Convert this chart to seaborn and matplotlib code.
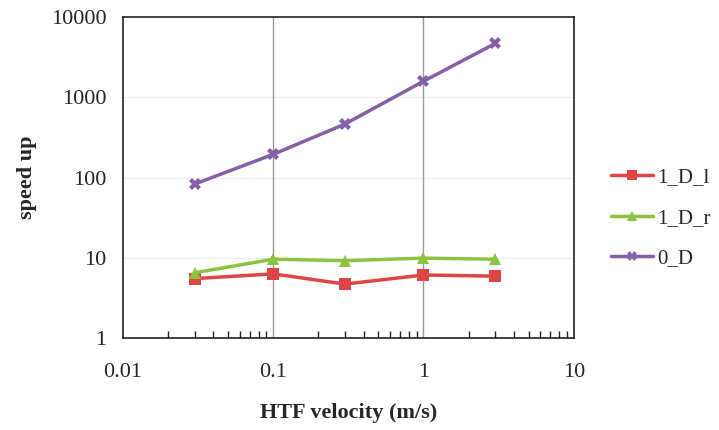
import matplotlib
matplotlib.use("Agg")
import matplotlib.pyplot as plt
import seaborn as sns
import pandas as pd
import numpy as np
from matplotlib.ticker import LogLocator, FixedLocator, FixedFormatter, NullFormatter

velocity = [0.03, 0.1, 0.3, 1, 3]
d1_l = [5.5, 6.3, 4.7, 6.1, 5.9]
d1_r = [6.5, 9.6, 9.2, 9.9, 9.6]
d0 = [83, 195, 465, 1590, 4700]
series_names = ["1_D_l", "1_D_r", "0_D"]
x_ticks = [0.01, 0.1, 1, 10]
x_labels = ["0.01", "0.1", "1", "10"]
y_ticks = [1, 10, 100, 1000, 10000]
y_labels = ["1", "10", "100", "1000", "10000"]

df = pd.DataFrame({
    "v": velocity * 3,
    "s": d1_l + d1_r + d0,
    "series": [series_names[0]] * 5 + [series_names[1]] * 5 + [series_names[2]] * 5,
})

sns.set_theme(style="white")
plt.rcParams['font.family'] = ['Liberation Serif', 'DejaVu Serif']

fig = plt.figure(figsize=(7.19, 4.30), dpi=100)
ax = fig.add_axes([0.171, 0.214, 0.627, 0.746])

colors = {"1_D_l": "#E04545", "1_D_r": "#8CC43F", "0_D": "#8560A8"}
markers = {"1_D_l": "s", "1_D_r": "^", "0_D": "X"}

sns.lineplot(data=df, x="v", y="s", hue="series", style="series",
             palette=colors, markers=markers, dashes=False, linewidth=2.5,
             markersize=9, markeredgewidth=0, ax=ax, zorder=3)

ax.set_xscale("log")
ax.set_yscale("log")
ax.set_xlim(0.01, 10)
ax.set_ylim(1, 10000)

# gridlines
for yv in [10, 100, 1000]:
    ax.axhline(yv, color="#EEEEEE", linewidth=0.8, zorder=0)
for xv in [0.1, 1]:
    ax.axvline(xv, color="#999999", linewidth=1.0, zorder=1)

ax.xaxis.set_major_locator(FixedLocator(x_ticks))
ax.xaxis.set_major_formatter(FixedFormatter(x_labels))
ax.xaxis.set_minor_locator(LogLocator(base=10, subs=np.arange(2, 10)))
ax.xaxis.set_minor_formatter(NullFormatter())
ax.yaxis.set_major_locator(FixedLocator(y_ticks))
ax.yaxis.set_major_formatter(FixedFormatter(y_labels))
ax.yaxis.set_minor_locator(FixedLocator([]))

ax.tick_params(axis="x", which="major", direction="in", length=7, width=1, color="#222222",
               labelsize=16, pad=18)
ax.tick_params(axis="x", which="minor", direction="in", length=5, width=1, color="#222222",
               bottom=True)
ax.tick_params(axis="y", which="major", length=0, labelsize=16, pad=12)

for sp in ax.spines.values():
    sp.set_color("#222222")
    sp.set_linewidth(1.2)

ax.set_xlabel("HTF velocity (m/s)", fontsize=16, fontweight="bold", labelpad=15)
ax.set_ylabel("speed up", fontsize=16, fontweight="bold", labelpad=10)

handles, labels = ax.get_legend_handles_labels()
for h in handles:
    h.set_markersize(7)
ax.legend(handles, labels, loc="center left", bbox_to_anchor=(1.06, 0.374),
          frameon=False, fontsize=15, handlelength=2.0, handletextpad=0.2,
          labelspacing=1.0, borderpad=0)

fig.savefig("out.png", dpi=100)
